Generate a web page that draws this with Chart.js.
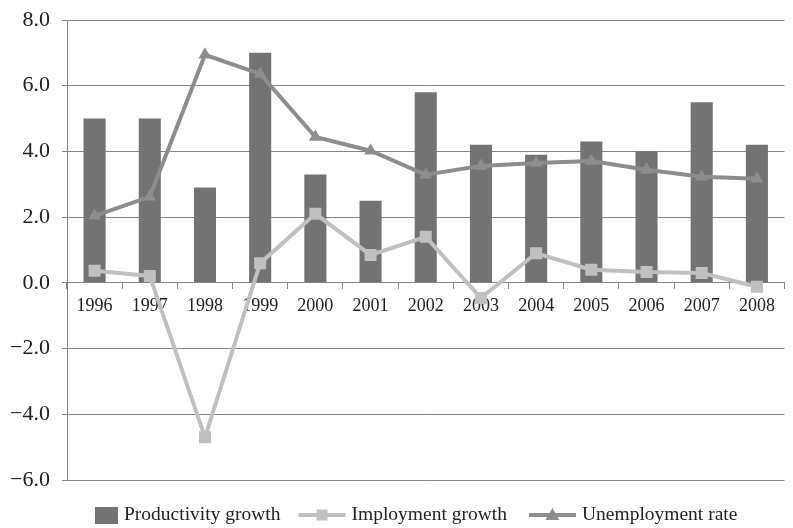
<!DOCTYPE html>
<html>
<head>
<meta charset="utf-8">
<script src="https://cdn.jsdelivr.net/npm/chart.js@4/dist/chart.umd.min.js"></script>
<style>
  html, body { margin: 0; padding: 0; background: #ffffff; }
  #wrap { width: 793px; height: 528px; }
</style>
</head>
<body>
<div id="wrap"><canvas id="c" width="793" height="528"></canvas></div>
<script>
// Years on the category axis
const years = ['1996','1997','1998','1999','2000','2001','2002','2003','2004','2005','2006','2007','2008'];

// Annual series (percent)
const productivityGrowth = [5.0, 5.0, 2.9, 7.0, 3.3, 2.5, 5.8, 4.2, 3.9, 4.3, 4.0, 5.5, 4.2];
const employmentGrowth   = [0.37, 0.21, -4.7, 0.6, 2.1, 0.85, 1.4, -0.46, 0.9, 0.4, 0.33, 0.3, -0.12];
const unemploymentRate   = [2.04, 2.62, 6.94, 6.36, 4.44, 4.02, 3.29, 3.56, 3.65, 3.71, 3.44, 3.23, 3.17];

// Value axis ticks
const yTickValues = [-6, -4, -2, 0, 2, 4, 6, 8];

const seriesNames = ['Productivity growth', 'Imployment growth', 'Unemployment rate'];

const BAR = '#737373';
const EMP = '#c0c0c0';
const UNEMP = '#8d8d8d';
const GRID = '#858585';
const FONT = "'Liberation Serif', 'DejaVu Serif', serif";

function fmt(v) {
  const s = Math.abs(v).toFixed(1);
  return v < 0 ? '\u2212' + s : s;
}

// Legend drawn under the plot: box for the bars, line + marker for the lines
const bottomLegend = {
  id: 'bottomLegend',
  afterDraw(chart) {
    const ctx = chart.ctx;
    const y = 515;
    ctx.save();
    ctx.font = '19.5px ' + FONT;
    ctx.textBaseline = 'middle';
    let x = 95;

    // bars
    ctx.fillStyle = BAR;
    ctx.fillRect(x, y - 8, 23, 17);
    x += 29;
    ctx.fillStyle = '#222';
    ctx.fillText(seriesNames[0], x, y);
    x += ctx.measureText(seriesNames[0]).width + 18;

    // employment line
    ctx.strokeStyle = EMP; ctx.lineWidth = 4;
    ctx.beginPath(); ctx.moveTo(x, y); ctx.lineTo(x + 47, y); ctx.stroke();
    ctx.fillStyle = EMP;
    ctx.fillRect(x + 23.5 - 5.5, y - 5.5, 11, 11);
    x += 53;
    ctx.fillStyle = '#222';
    ctx.fillText(seriesNames[1], x, y);
    x += ctx.measureText(seriesNames[1]).width + 22;

    // unemployment line
    ctx.strokeStyle = UNEMP;
    ctx.beginPath(); ctx.moveTo(x, y); ctx.lineTo(x + 47, y); ctx.stroke();
    ctx.fillStyle = UNEMP;
    const cx = x + 23.5;
    ctx.beginPath();
    ctx.moveTo(cx, y - 7); ctx.lineTo(cx + 7, y + 5); ctx.lineTo(cx - 7, y + 5);
    ctx.closePath(); ctx.fill();
    x += 53;
    ctx.fillStyle = '#222';
    ctx.fillText(seriesNames[2], x, y);
    ctx.restore();
  }
};

new Chart(document.getElementById('c'), {
  data: {
    labels: years,
    datasets: [
      {
        type: 'line',
        label: seriesNames[2],
        data: unemploymentRate,
        borderColor: UNEMP,
        backgroundColor: UNEMP,
        borderWidth: 4,
        pointStyle: 'triangle',
        pointRadius: 7.5,
        pointBorderWidth: 0,
        pointBackgroundColor: UNEMP,
        tension: 0,
        order: 1
      },
      {
        type: 'line',
        label: seriesNames[1],
        data: employmentGrowth,
        borderColor: EMP,
        backgroundColor: EMP,
        borderWidth: 4,
        pointStyle: 'rect',
        pointRadius: 8.5,
        pointBorderWidth: 0,
        pointBackgroundColor: EMP,
        tension: 0,
        order: 2
      },
      {
        type: 'bar',
        label: seriesNames[0],
        data: productivityGrowth,
        backgroundColor: BAR,
        borderWidth: 0,
        barPercentage: 0.4,
        categoryPercentage: 1.0,
        order: 3
      }
    ]
  },
  options: {
    responsive: false,
    animation: false,
    layout: { padding: { top: 20, right: 1, bottom: 48, left: 0 } },
    plugins: {
      legend: { display: false },
      tooltip: { enabled: false }
    },
    scales: {
      x: {
        type: 'category',
        position: { y: 0 },
        offset: true,
        grid: {
          offset: true,
          drawOnChartArea: false,
          drawTicks: true,
          tickLength: 6,
          color: GRID
        },
        border: { display: true, color: GRID, width: 1 },
        ticks: {
          color: '#222',
          font: { family: FONT, size: 18 },
          padding: 7,
          maxRotation: 0,
          autoSkip: false
        }
      },
      y: {
        min: -6,
        max: 8,
        afterFit(scale) {
          scale.width = 67;
          scale.paddingTop = 0;
          scale.paddingBottom = 0;
        },
        afterBuildTicks(scale) { scale.ticks = yTickValues.map(v => ({ value: v })); },
        grid: {
          color: GRID,
          lineWidth: 1,
          tickLength: 5
        },
        border: { display: true, color: GRID, width: 1 },
        ticks: {
          color: '#222',
          font: { family: FONT, size: 22 },
          padding: 12,
          callback: (v) => fmt(v)
        }
      }
    }
  },
  plugins: [bottomLegend]
});
</script>
</body>
</html>
